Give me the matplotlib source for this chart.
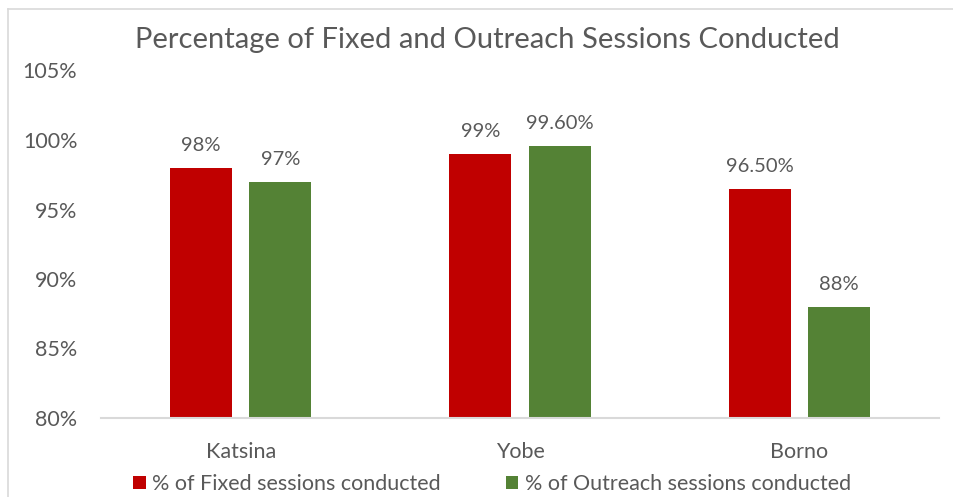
import matplotlib.pyplot as plt
import numpy as np

STATES = ["Katsina", "Yobe", "Borno"]
FIXED = [98.0, 99.0, 96.5]
OUTREACH = [97.0, 99.6, 88.0]
FIXED_LABELS = ["98%", "99%", "96.50%"]
OUTREACH_LABELS = ["97%", "99.60%", "88%"]
Y_TICKS = [80, 85, 90, 95, 100, 105]

RED = "#C00000"
GREEN = "#548235"
TXT = "#595959"
GRID = "#D9D9D9"

plt.rcParams["font.family"] = ["Lato", "DejaVu Sans"]

fig = plt.figure(figsize=(9.54, 4.97), dpi=100)
W, H = 954, 497
ax = fig.add_axes([101 / W, 1 - 418 / H, (939 - 101) / W, (418 - 70.5) / H])

x = np.arange(len(STATES))
bw = 0.222
gap = 0.061
off = (bw + gap) / 2
b1 = ax.bar(x - off, [v - 80 for v in FIXED], bw, bottom=80, color=RED,
            label="% of Fixed sessions conducted")
b2 = ax.bar(x + off, [v - 80 for v in OUTREACH], bw, bottom=80, color=GREEN,
            label="% of Outreach sessions conducted")

for xi, v, lab in zip(x - off, FIXED, FIXED_LABELS):
    ax.annotate(lab, (xi, v), xytext=(0, 10), textcoords="offset points",
                ha="center", va="bottom", fontsize=14.5, color=TXT)
for xi, v, lab in zip(x + off, OUTREACH, OUTREACH_LABELS):
    ax.annotate(lab, (xi, v), xytext=(0, 10), textcoords="offset points",
                ha="center", va="bottom", fontsize=14.5, color=TXT)

ax.set_xlim(-0.5, len(STATES) - 0.5)
ax.set_ylim(80, 105)
ax.set_yticks(Y_TICKS)
ax.set_yticklabels([f"{t}%" for t in Y_TICKS])
ax.set_xticks(x)
ax.set_xticklabels(STATES)
ax.tick_params(axis="both", length=0, labelsize=15.5, colors=TXT)
ax.tick_params(axis="y", pad=17)
ax.tick_params(axis="x", pad=17)
for s in ["top", "right", "left"]:
    ax.spines[s].set_visible(False)
ax.spines["bottom"].set_color(GRID)
ax.spines["bottom"].set_linewidth(1.5)

fig.text(487 / W, 1 - 40 / H, "Percentage of Fixed and Outreach Sessions Conducted",
         ha="center", va="center", fontsize=21, color=TXT)

fig.legend(handles=[b1, b2], loc="center", bbox_to_anchor=(492 / W, 1 - 484 / H),
           ncol=2, frameon=False, fontsize=15.5, labelcolor=TXT,
           handlelength=0.6, handleheight=0.6, handletextpad=0.3, columnspacing=3.0,
           borderpad=0.1)

# chart border (light gray) at left and top
fig.add_artist(plt.Line2D([8.5 / W, 8.5 / W], [0, 1 - 8.5 / H], color=GRID, lw=1.2))
fig.add_artist(plt.Line2D([8.5 / W, 1], [1 - 8.5 / H, 1 - 8.5 / H], color=GRID, lw=1.2))

fig.savefig("out.png", dpi=100)
